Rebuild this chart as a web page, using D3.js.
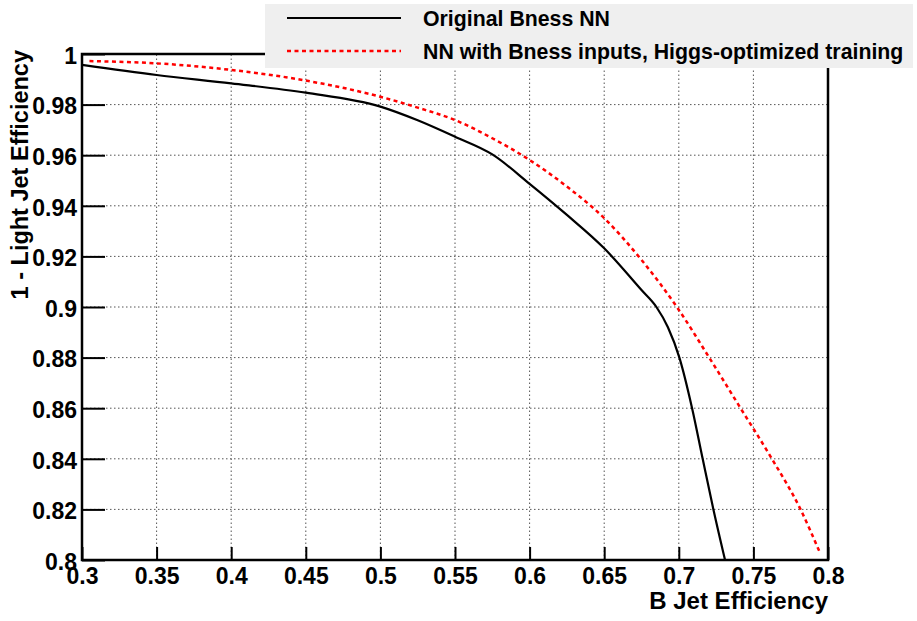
<!DOCTYPE html>
<html>
<head>
<meta charset="utf-8">
<script src="https://cdn.jsdelivr.net/npm/d3@7"></script>
<style>
    body { margin: 0; background: #fff; }
    svg text { font-family: "Liberation Sans", Arial, Helvetica, sans-serif; font-weight: bold; fill: #000; }
</style>
</head>
<body>
<div id="chart"></div>
<script>
// Efficiency curves (x = B jet eff, y = 1 - light jet eff)
const originalX = [0.3, 0.35, 0.4, 0.45, 0.5, 0.525, 0.55, 0.575, 0.6, 0.625, 0.65, 0.675, 0.685, 0.6927, 0.7004, 0.7089, 0.716, 0.7232, 0.731]
const originalY = [0.9957, 0.9917, 0.9884, 0.9847, 0.9792, 0.9738, 0.9673, 0.9603, 0.9487, 0.9364, 0.9232, 0.9067, 0.900, 0.892, 0.88, 0.86, 0.84, 0.82, 0.80]

const higgsX = [0.305, 0.35, 0.4, 0.45, 0.5, 0.525, 0.55, 0.575, 0.6, 0.625, 0.65, 0.675, 0.6987, 0.7204, 0.7414, 0.7624, 0.7816, 0.7945]
const higgsY = [0.9972, 0.9963, 0.9937, 0.9895, 0.9831, 0.9788, 0.9739, 0.9667, 0.9581, 0.9476, 0.9351, 0.9186, 0.90, 0.88, 0.86, 0.84, 0.82, 0.803]

const xTicks = [0.3, 0.35, 0.4, 0.45, 0.5, 0.55, 0.6, 0.65, 0.7, 0.75, 0.8]
const yTicks = [0.8, 0.82, 0.84, 0.86, 0.88, 0.9, 0.92, 0.94, 0.96, 0.98, 1]
const legendLabels = ["Original Bness NN", "NN with Bness inputs, Higgs-optimized training"]

const width = 917, height = 621
const margin = { left: 82, right: 89, top: 54, bottom: 61 }

const svg = d3.select("#chart").append("svg")
    .attr("width", width)
    .attr("height", height)

let x = d3.scaleLinear()
    .domain([0.3, 0.8])
    .range([margin.left, width - margin.right])
let y = d3.scaleLinear()
    .domain([0.8, 1])
    .range([height - margin.bottom, margin.top])

// grid
svg.append("g").selectAll("line")
    .data(xTicks.slice(1, -1))
    .join("line")
        .attr("x1", d => x(d)).attr("x2", d => x(d))
        .attr("y1", y(0.8)).attr("y2", y(1))
        .attr("stroke", "#555").attr("stroke-width", 1).attr("stroke-dasharray", "1.5,2.5")
svg.append("g").selectAll("line")
    .data(yTicks.slice(1, -1))
    .join("line")
        .attr("x1", x(0.3)).attr("x2", x(0.8))
        .attr("y1", d => y(d)).attr("y2", d => y(d))
        .attr("stroke", "#555").attr("stroke-width", 1).attr("stroke-dasharray", "1.5,2.5")

// axes: ticks point into the frame
const fmt = d => d3.format("")(+d.toFixed(2))
const minorX = d3.range(0.3, 0.8001, 0.01)
const minorY = d3.range(0.8, 1.0001, 0.005)

const xAxis = svg.append("g").attr("transform", `translate(0,${y(0.8)})`)
xAxis.call(d3.axisBottom(x).tickValues(minorX).tickSize(-6).tickFormat(""))
xAxis.call(d3.axisBottom(x).tickValues(xTicks).tickSize(-13).tickPadding(7).tickFormat(fmt))
const yAxis = svg.append("g").attr("transform", `translate(${x(0.3)},0)`)
yAxis.call(d3.axisLeft(y).tickValues(minorY).tickSize(-10).tickFormat(""))
yAxis.call(d3.axisLeft(y).tickValues(yTicks).tickSize(-23).tickPadding(5).tickFormat(fmt))

svg.selectAll(".tick line").attr("stroke", "#000").attr("stroke-width", 2)
svg.selectAll(".domain").remove()
svg.selectAll(".tick text").attr("font-size", 23).attr("font-family", null)
xAxis.selectAll(".tick text").attr("dy", "0.75em")
yAxis.selectAll(".tick text").attr("dy", "0.4em")

// frame
svg.append("rect")
    .attr("x", x(0.3)).attr("y", y(1))
    .attr("width", x(0.8) - x(0.3)).attr("height", y(0.8) - y(1))
    .attr("fill", "none").attr("stroke", "#000").attr("stroke-width", 2.5)

// curves
const line = d3.line().x(d => x(d[0])).y(d => y(d[1])).curve(d3.curveMonotoneX)
svg.append("path")
    .datum(d3.zip(originalX, originalY))
    .attr("d", line)
    .attr("fill", "none").attr("stroke", "#000").attr("stroke-width", 2.2)
svg.append("path")
    .datum(d3.zip(higgsX, higgsY))
    .attr("d", line)
    .attr("fill", "none").attr("stroke", "#f00").attr("stroke-width", 2.5)
    .attr("stroke-dasharray", "4,3.5")

// axis titles
svg.append("text")
    .attr("x", x(0.8)).attr("y", 609)
    .attr("text-anchor", "end").attr("font-size", 24)
    .text("B Jet Efficiency")
svg.append("text")
    .attr("transform", `translate(28,${y(1) - 4}) rotate(-90)`)
    .attr("text-anchor", "end").attr("font-size", 23.5)
    .text("1 - Light Jet Efficiency")

// legend
const legend = svg.append("g")
legend.append("rect")
    .attr("x", 265).attr("y", 4).attr("width", 648).attr("height", 64)
    .attr("fill", "#efefef")
const styles = [
    { stroke: "#000", dash: null, w: 2.2 },
    { stroke: "#f00", dash: "4,3.5", w: 2.5 }
]
legendLabels.forEach((label, i) => {
    let ly = 18 + i * 33
    legend.append("line")
        .attr("x1", 287).attr("x2", 401).attr("y1", ly).attr("y2", ly)
        .attr("stroke", styles[i].stroke).attr("stroke-width", styles[i].w)
        .attr("stroke-dasharray", styles[i].dash)
    legend.append("text")
        .attr("x", 423).attr("y", ly + 7.5)
        .attr("font-size", 21.3)
        .text(label)
})
</script>
</body>
</html>
